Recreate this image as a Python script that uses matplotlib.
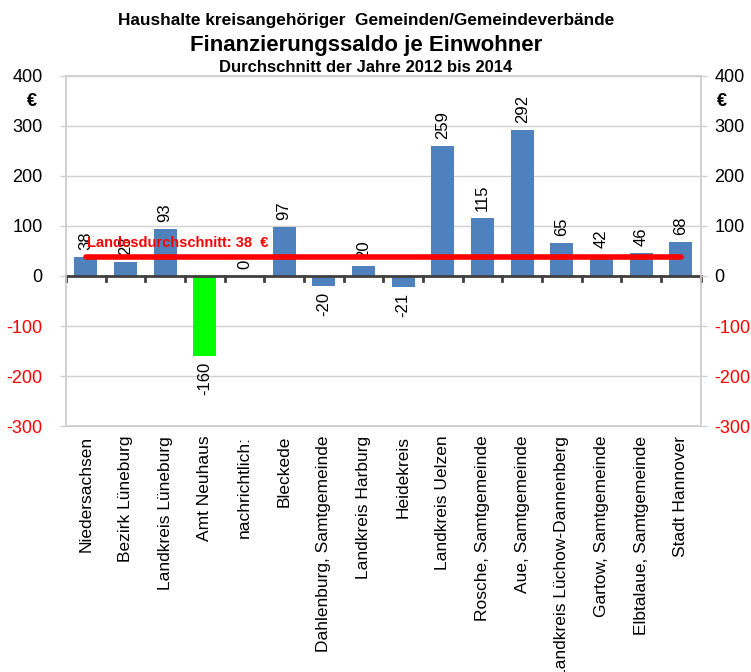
import matplotlib
matplotlib.use("Agg")
import matplotlib.pyplot as plt
import numpy as np

plt.rcParams['font.family'] = ['Liberation Sans', 'DejaVu Sans']

categories = [
    "Niedersachsen", "Bezirk Lüneburg", "Landkreis Lüneburg", "Amt Neuhaus",
    "nachrichtlich:", "Bleckede", "Dahlenburg, Samtgemeinde", "Landkreis Harburg",
    "Heidekreis", "Landkreis Uelzen", "Rosche, Samtgemeinde", "Aue, Samtgemeinde",
    "Landkreis Lüchow-Dannenberg", "Gartow, Samtgemeinde", "Elbtalaue, Samtgemeinde",
    "Stadt Hannover",
]
values = [38, 28, 93, -160, 0, 97, -20, 20, -21, 259, 115, 292, 65, 42, 46, 68]
landesdurchschnitt = 38
highlight = "Amt Neuhaus"
y_ticks = [-300, -200, -100, 0, 100, 200, 300, 400]

blue = "#4F81BD"
green = "#00FF00"
red = "#FF0000"
grid_gray = "#D0D0D0"

fig = plt.figure(figsize=(7.51, 6.72), dpi=100)
ax = fig.add_axes([0.088, 0.366, 0.845, 0.521])

x = np.arange(len(categories))
colors = [green if c == highlight else blue for c in categories]
ax.bar(x, values, width=0.58, color=colors, zorder=3)

ax.set_xlim(-0.5, len(categories) - 0.5)
ax.set_ylim(-300, 400)
ax.set_yticks(y_ticks)
ax.set_yticklabels([str(v) for v in y_ticks], fontsize=13)
for lbl, v in zip(ax.get_yticklabels(), y_ticks):
    lbl.set_color(red if v < 0 else "black")
ax.tick_params(axis='y', length=4, width=1, color=grid_gray, pad=13)
ax.yaxis.grid(True, color=grid_gray, linewidth=1, zorder=0)
ax.set_axisbelow(True)

# right-hand duplicate axis
ax2 = ax.twinx()
ax2.set_ylim(ax.get_ylim())
ax2.set_yticks(y_ticks)
ax2.set_yticklabels([str(v) for v in y_ticks], fontsize=13)
for lbl, v in zip(ax2.get_yticklabels(), y_ticks):
    lbl.set_color(red if v < 0 else "black")
ax2.tick_params(axis='y', length=4, width=1, color=grid_gray, pad=6)

for a in (ax, ax2):
    for s in a.spines.values():
        s.set_color(grid_gray)
        s.set_linewidth(1.2)

# category axis drawn at zero
ax.axhline(0, color="#404040", linewidth=2, zorder=4)
for b in np.arange(-0.5, len(categories), 1.0):
    ax.plot([b, b], [0, -10], color="#404040", linewidth=2, zorder=4, clip_on=False)

ax.set_xticks(x)
ax.set_xticklabels(categories, rotation=90, fontsize=12.5, va='top', ha='center')
ax.tick_params(axis='x', length=0, pad=7)

# value labels
for xi, v in zip(x, values):
    if v >= 0:
        ax.text(xi, v + 14, f"{v}", rotation=90, ha='center', va='bottom', fontsize=12, zorder=5)
    else:
        ax.text(xi, v - 12, f"{v}", rotation=90, ha='center', va='top', fontsize=12, zorder=5)

# state average line
ax.plot([x[0], x[-1]], [landesdurchschnitt, landesdurchschnitt], color=red, linewidth=4,
        solid_capstyle='round', zorder=6)
ax.text(x[0] + 0.03, landesdurchschnitt + 28, f"Landesdurchschnitt: {landesdurchschnitt}  €",
        color=red, fontsize=10.5, fontweight='bold', ha='left', va='center', zorder=7)

# unit labels
fig.text(32 / 751, 1 - 101 / 672, "€", fontsize=13, fontweight='bold', ha='center', va='center')
fig.text(722 / 751, 1 - 102 / 672, "€", fontsize=13, fontweight='bold', ha='center', va='center')

# titles
cx = 366 / 751
fig.text(cx, 1 - 20 / 672, "Haushalte kreisangehöriger  Gemeinden/Gemeindeverbände",
         fontsize=12.4, fontweight='bold', ha='center', va='center')
fig.text(cx, 1 - 45 / 672, "Finanzierungssaldo je Einwohner",
         fontsize=16, fontweight='bold', ha='center', va='center')
fig.text(cx, 1 - 68 / 672, "Durchschnitt der Jahre 2012 bis 2014",
         fontsize=12, fontweight='bold', ha='center', va='center')

fig.savefig("out.png", dpi=100)
